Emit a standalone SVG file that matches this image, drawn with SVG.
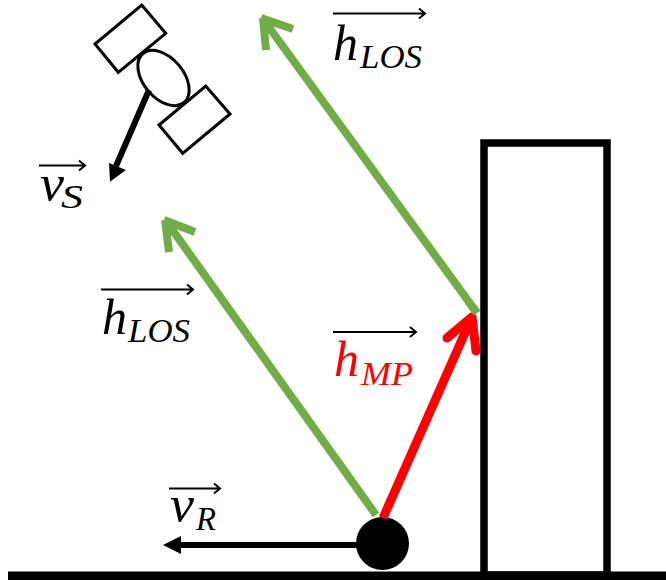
<svg xmlns="http://www.w3.org/2000/svg" width="666" height="580" viewBox="0 0 666 580">
<style>
.o{fill:#fff;stroke:#000;stroke-width:3}
.g{fill:none;stroke:#70ad47;stroke-width:8}
.r{fill:none;stroke:#f00;stroke-width:9;stroke-linecap:round;stroke-linejoin:round}
.k{fill:none;stroke:#000;stroke-width:6}
.v{fill:none;stroke:#000;stroke-width:2}
.t{font-family:"Liberation Serif",serif;font-style:italic;font-size:50px;fill:#000}
.s{font-family:"Liberation Serif",serif;font-style:italic;font-size:33px;fill:#000}
.m{fill:#f00}
</style>
<rect width="666" height="580" fill="#fff"/>
<g id="building"><rect x="484" y="143" width="123" height="432" fill="none" stroke="#000" stroke-width="7.500"/></g>
<g id="ground"><rect x="8" y="571.500" width="658" height="8.500" fill="#000"/></g>
<g id="satellite">
<polygon class="o" points="141.700,5 165.700,33.300 118.300,72.300 95,44"/>
<polygon class="o" points="205.700,86 230,114 182.700,153.300 159,125"/>
<ellipse class="o" cx="163.500" cy="78" rx="32" ry="20" transform="rotate(50 163.500 78)"/>
</g>
<g id="receiver"><circle cx="382.500" cy="543.500" r="26.500" fill="#000"/></g>
<g id="connectors">
<path class="k" d="M149 90L116 166"/>
<polygon points="110,181.700 109,163 126,170" fill="#000"/>
<path class="k" d="M360 545H178"/>
<polygon points="163,545 181,536 181,554" fill="#000"/>
<path class="g" d="M477 313L263 19M263 18L266 50M261 18L293 29"/>
<path class="g" d="M376 515L166 221M165 220L169 252M164 220L195 232"/>
<path class="r" style="stroke-linecap:butt" d="M383 518L472 317"/>
<path class="r" d="M447 338L472 317L476 351"/>
<path class="g" d="M468 301L477 313"/>
</g>
<g id="label-los-top">
<path class="v" d="M333 13.500H425M419 8.500L425 13.500L419 18.500"/>
<text x="333" y="60" class="t">h</text><text x="360" y="68" class="s" textLength="62" lengthAdjust="spacingAndGlyphs">LOS</text>
</g>
<g id="label-los-left">
<path class="v" d="M101 289.500H193M187 284.500L193 289.500L187 294.500"/>
<text x="102" y="334" class="t">h</text><text x="128" y="342" class="s" textLength="62" lengthAdjust="spacingAndGlyphs">LOS</text>
</g>
<g id="label-mp">
<path class="v" d="M333 332H416M410 327L416 332L410 337"/>
<text x="334" y="376" class="t m">h</text><text x="361" y="385" class="s m" textLength="52" lengthAdjust="spacingAndGlyphs">MP</text>
</g>
<g id="label-vs">
<path class="v" d="M39 165.500H85M79 160.500L85 165.500L79 170.500"/>
<text x="40" y="200" class="t" textLength="24" lengthAdjust="spacingAndGlyphs">v</text><text x="61" y="208" class="s" textLength="22" lengthAdjust="spacingAndGlyphs">S</text>
</g>
<g id="label-vr">
<path class="v" d="M169 488.500H220M214 483.500L220 488.500L214 493.500"/>
<text x="170" y="521" class="t" textLength="24" lengthAdjust="spacingAndGlyphs">v</text><text x="196" y="530" class="s" textLength="20" lengthAdjust="spacingAndGlyphs">R</text>
</g>
</svg>
